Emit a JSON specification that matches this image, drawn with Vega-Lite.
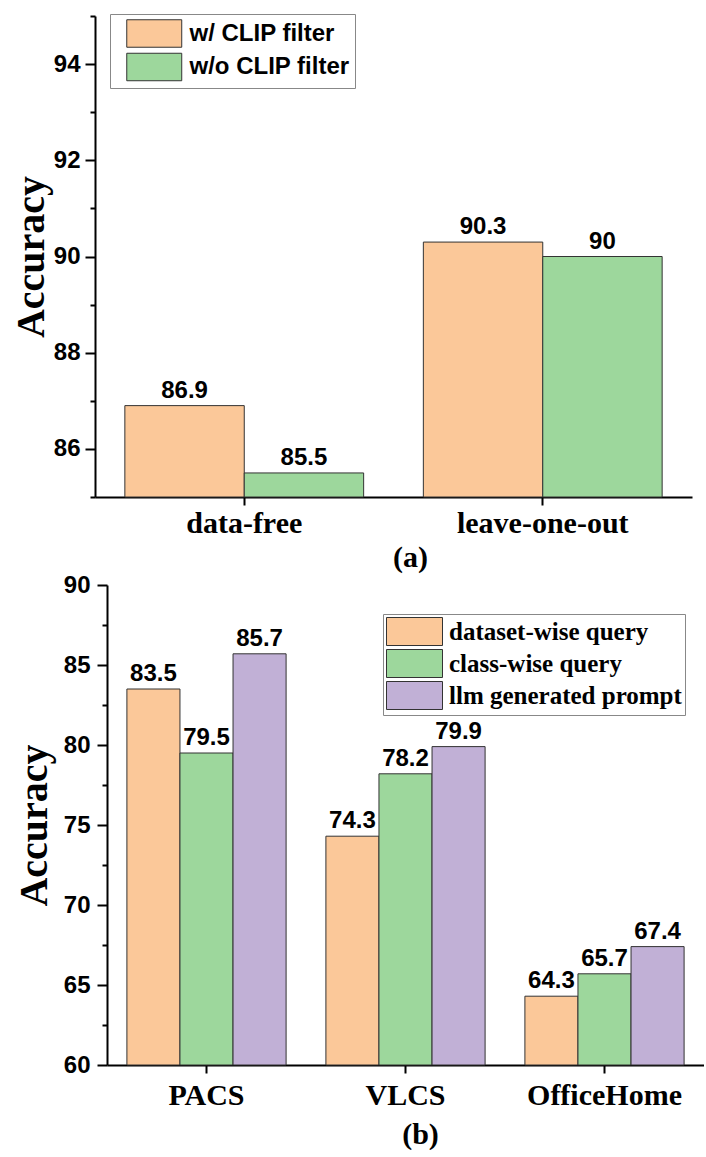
{
  "$schema": "https://vega.github.io/schema/vega-lite/v6.json",
  "padding": {"left": 11, "top": 13, "right": 0, "bottom": 0},
  "background": "white",
  "config": {
    "view": {"stroke": null},
    "axis": {"domainColor": "black", "domainWidth": 2, "tickColor": "black", "tickWidth": 2, "labelColor": "black", "titleColor": "black", "grid": false}
  },
  "columns": 1,
  "spacing": 0,
  "resolve": {"scale": {"color": "independent", "xOffset": "independent", "x": "independent", "y": "independent"}, "legend": {"color": "independent"}},
  "datasets": {
    "a": [
      {"setting": "data-free", "filter": "w/ CLIP filter", "accuracy": 86.9},
      {"setting": "data-free", "filter": "w/o CLIP filter", "accuracy": 85.5},
      {"setting": "leave-one-out", "filter": "w/ CLIP filter", "accuracy": 90.3},
      {"setting": "leave-one-out", "filter": "w/o CLIP filter", "accuracy": 90}
    ],
    "b": [
      {"dataset": "PACS", "query": "dataset-wise query", "accuracy": 83.5},
      {"dataset": "PACS", "query": "class-wise query", "accuracy": 79.5},
      {"dataset": "PACS", "query": "llm generated prompt", "accuracy": 85.7},
      {"dataset": "VLCS", "query": "dataset-wise query", "accuracy": 74.3},
      {"dataset": "VLCS", "query": "class-wise query", "accuracy": 78.2},
      {"dataset": "VLCS", "query": "llm generated prompt", "accuracy": 79.9},
      {"dataset": "OfficeHome", "query": "dataset-wise query", "accuracy": 64.3},
      {"dataset": "OfficeHome", "query": "class-wise query", "accuracy": 65.7},
      {"dataset": "OfficeHome", "query": "llm generated prompt", "accuracy": 67.4}
    ]
  },
  "concat": [
    {
      "width": 597,
      "height": 481,
      "data": {"name": "a"},
      "title": {"text": "(a)", "orient": "bottom", "frame": "group", "font": "Liberation Serif", "fontSize": 30, "fontWeight": "bold", "color": "black", "dx": 17, "offset": 5},
      "encoding": {
        "x": {
          "field": "setting", "type": "nominal", "sort": ["data-free", "leave-one-out"],
          "scale": {"paddingInner": 0.2, "paddingOuter": 0.1},
          "axis": {"title": null, "labelAngle": 0, "labelFont": "Liberation Serif", "labelFontSize": 30, "labelFontWeight": "bold", "tickSize": 8, "labelPadding": 3}
        },
        "xOffset": {"field": "filter", "type": "nominal", "sort": ["w/ CLIP filter", "w/o CLIP filter"], "scale": {"paddingInner": 0, "paddingOuter": 0}},
        "y": {
          "field": "accuracy", "type": "quantitative",
          "scale": {"domain": [85, 95], "zero": false, "nice": false},
          "axis": {
            "title": "Accuracy",
            "values": [85, 86, 87, 88, 89, 90, 91, 92, 93, 94, 95],
            "labelExpr": "datum.value % 2 === 0 ? datum.label : ''",
            "tickSize": {"condition": {"test": "datum.value % 2 === 0", "value": 10}, "value": 5},
            "labelFont": "Liberation Sans", "labelFontSize": 24, "labelFontWeight": "bold", "labelPadding": 5,
            "titleFont": "Liberation Serif", "titleFontSize": 40, "titleFontWeight": "bold", "titlePadding": 2
          }
        }
      },
      "layer": [
        {
          "mark": {"type": "bar", "stroke": "#333333", "strokeWidth": 1},
          "encoding": {
            "y2": {"datum": 85},
            "color": {
              "field": "filter", "type": "nominal",
              "scale": {"domain": ["w/ CLIP filter", "w/o CLIP filter"], "range": ["#FBC899", "#9DD79C"]},
              "legend": {
                "title": null, "orient": "none", "legendX": 15, "legendY": -2,
                "strokeColor": "#888888", "fillColor": "white", "padding": 5,
                "symbolType": "M-2,-1H2V1H-2Z", "symbolSize": 756, "symbolStrokeColor": "#333333", "symbolStrokeWidth": 1, "symbolOffset": 24.75,
                "labelFont": "Liberation Sans", "labelFontSize": 24, "labelFontWeight": "bold", "labelColor": "black", "labelOffset": 20.75, "labelLimit": 0, "rowPadding": 0.5
              }
            }
          }
        },
        {
          "mark": {"type": "text", "baseline": "bottom", "dy": -3, "font": "Liberation Sans", "fontSize": 24, "fontWeight": "bold", "color": "black"},
          "encoding": {"text": {"field": "accuracy", "type": "quantitative"}}
        }
      ]
    },
    {
      "width": 609,
      "height": 480,
      "data": {"name": "b"},
      "title": {"text": "(b)", "orient": "bottom", "frame": "group", "font": "Liberation Serif", "fontSize": 30, "fontWeight": "bold", "color": "black", "dx": 21, "offset": 10},
      "encoding": {
        "x": {
          "field": "dataset", "type": "nominal", "sort": ["PACS", "VLCS", "OfficeHome"],
          "scale": {"paddingInner": 0.2, "paddingOuter": 0.1, "range": [12, 609]},
          "axis": {"title": null, "labelAngle": 0, "labelFont": "Liberation Serif", "labelFontSize": 30, "labelFontWeight": "bold", "tickSize": 8, "labelPadding": 7}
        },
        "xOffset": {"field": "query", "type": "nominal", "sort": ["dataset-wise query", "class-wise query", "llm generated prompt"], "scale": {"paddingInner": 0, "paddingOuter": 0}},
        "y": {
          "field": "accuracy", "type": "quantitative",
          "scale": {"domain": [60, 90], "zero": false, "nice": false},
          "axis": {
            "title": "Accuracy",
            "offset": -12,
            "values": [60, 62.5, 65, 67.5, 70, 72.5, 75, 77.5, 80, 82.5, 85, 87.5, 90],
            "labelExpr": "datum.value % 5 === 0 ? datum.label : ''",
            "tickSize": {"condition": {"test": "datum.value % 5 === 0", "value": 10}, "value": 5},
            "labelFont": "Liberation Sans", "labelFontSize": 24, "labelFontWeight": "bold", "labelPadding": 7,
            "titleFont": "Liberation Serif", "titleFontSize": 40, "titleFontWeight": "bold", "titlePadding": 9
          }
        }
      },
      "layer": [
        {
          "mark": {"type": "bar", "stroke": "#333333", "strokeWidth": 1},
          "encoding": {
            "y2": {"datum": 60},
            "color": {
              "field": "query", "type": "nominal",
              "scale": {"domain": ["dataset-wise query", "class-wise query", "llm generated prompt"], "range": ["#FBC899", "#9DD79C", "#C1B0D6"]},
              "legend": {
                "title": null, "orient": "none", "legendX": 288, "legendY": 29,
                "strokeColor": "#888888", "fillColor": "white", "padding": 3,
                "symbolType": "M-2,-1H2V1H-2Z", "symbolSize": 784, "symbolStrokeColor": "#333333", "symbolStrokeWidth": 1, "symbolOffset": 14,
                "labelFont": "Liberation Serif", "labelFontSize": 25, "labelFontWeight": "bold", "labelColor": "black", "labelOffset": 20, "labelLimit": 0, "rowPadding": -1
              }
            }
          }
        },
        {
          "mark": {"type": "text", "baseline": "bottom", "dy": -3, "font": "Liberation Sans", "fontSize": 24, "fontWeight": "bold", "color": "black"},
          "encoding": {"text": {"field": "accuracy", "type": "quantitative"}}
        }
      ]
    }
  ]
}
